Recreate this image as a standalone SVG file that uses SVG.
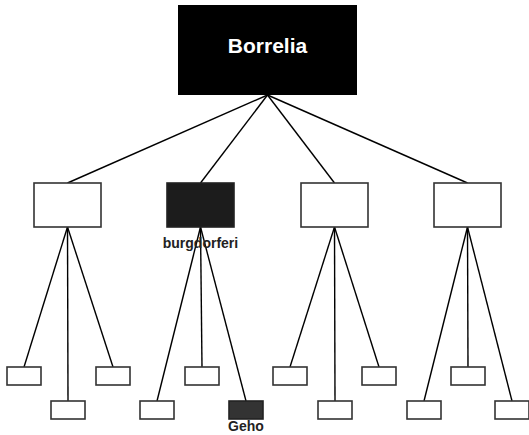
<svg xmlns="http://www.w3.org/2000/svg" width="529" height="435" viewBox="0 0 529 435">
<style>
.c{stroke:#000;stroke-width:1.4;fill:none}
.b{fill:#fff;stroke:#333;stroke-width:1.6}
.d1{fill:#1c1c1c;stroke:#222;stroke-width:1.6}
.d2{fill:#333;stroke:#222;stroke-width:1.6}
.t{font-family:"Liberation Sans",Arial,sans-serif;font-weight:bold;text-anchor:middle}
</style>
<rect width="529" height="435" fill="#fff"/>
<g id="connectors">
<line class="c" x1="267.5" y1="95" x2="67.5" y2="183"/>
<line class="c" x1="267.5" y1="95" x2="200.5" y2="183"/>
<line class="c" x1="267.5" y1="95" x2="334.5" y2="183"/>
<line class="c" x1="267.5" y1="95" x2="467.5" y2="183"/>
<line class="c" x1="67.5" y1="227" x2="24" y2="367"/>
<line class="c" x1="67.5" y1="227" x2="68" y2="401"/>
<line class="c" x1="67.5" y1="227" x2="113" y2="367"/>
<line class="c" x1="200.5" y1="227" x2="157" y2="401"/>
<line class="c" x1="200.5" y1="227" x2="202" y2="367"/>
<line class="c" x1="200.5" y1="227" x2="246" y2="401"/>
<line class="c" x1="334.5" y1="227" x2="290" y2="367"/>
<line class="c" x1="334.5" y1="227" x2="335" y2="401"/>
<line class="c" x1="334.5" y1="227" x2="379" y2="367"/>
<line class="c" x1="467.5" y1="227" x2="424" y2="401"/>
<line class="c" x1="467.5" y1="227" x2="468" y2="367"/>
<line class="c" x1="467.5" y1="227" x2="512" y2="401"/>
</g>
<g id="borrelia">
<rect x="178" y="5" width="179" height="90" fill="#000"/>
<text class="t" x="267.5" y="52.5" font-size="21" fill="#fff">Borrelia</text>
</g>
<g id="mid1"><rect class="b" x="34" y="183" width="67" height="44"/></g>
<g id="burgdorferi"><rect class="d1" x="167" y="183" width="67" height="44"/>
<text class="t" x="200.5" y="248" font-size="14" fill="#222">burgdorferi</text></g>
<g id="mid3"><rect class="b" x="301" y="183" width="67" height="44"/></g>
<g id="mid4"><rect class="b" x="434" y="183" width="67" height="44"/></g>
<g id="leafA"><rect class="b" x="7" y="367" width="34" height="18"/></g>
<g id="leafB"><rect class="b" x="51" y="401" width="34" height="18"/></g>
<g id="leafC"><rect class="b" x="96" y="367" width="34" height="18"/></g>
<g id="leafD"><rect class="b" x="140" y="401" width="34" height="18"/></g>
<g id="leafE"><rect class="b" x="185" y="367" width="34" height="18"/></g>
<g id="geho"><rect class="d2" x="229" y="401" width="34" height="18"/>
<text class="t" x="246" y="431" font-size="14" fill="#222">Geho</text></g>
<g id="leafG"><rect class="b" x="273" y="367" width="34" height="18"/></g>
<g id="leafH"><rect class="b" x="318" y="401" width="34" height="18"/></g>
<g id="leafI"><rect class="b" x="362" y="367" width="34" height="18"/></g>
<g id="leafJ"><rect class="b" x="407" y="401" width="34" height="18"/></g>
<g id="leafK"><rect class="b" x="451" y="367" width="34" height="18"/></g>
<g id="leafL"><rect class="b" x="495" y="401" width="34" height="18"/></g>
</svg>
